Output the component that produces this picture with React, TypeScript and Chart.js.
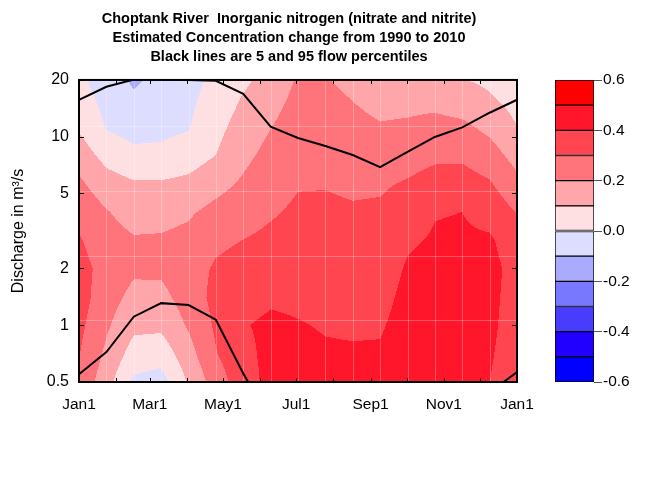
import React, { useEffect, useRef } from 'react';
import { Chart, registerables } from 'chart.js';

Chart.register(...registerables);

// ---------- text ----------
const titleLines = [
  'Choptank River  Inorganic nitrogen (nitrate and nitrite)',
  'Estimated Concentration change from 1990 to 2010',
  'Black lines are 5 and 95 flow percentiles',
];
const yAxisTitle = 'Discharge in m³/s';

// ---------- axes ----------
const monthTickDays = [0, 59, 120, 181, 243, 304, 365];
const monthTickLabels = ['Jan1', 'Mar1', 'May1', 'Jul1', 'Sep1', 'Nov1', 'Jan1'];
const monthStartDays = [0, 31, 59, 90, 120, 151, 181, 212, 243, 273, 304, 334, 365];
const flowTicks = [0.5, 1, 2, 5, 10, 20];
const flowTickLabels = ['0.5', '1', '2', '5', '10', '20'];

// ---------- surface grid (day of year x discharge) ----------
const gridDays = [0, 22.81, 45.63, 68.44, 91.25, 114.06, 136.88, 159.69, 182.5,
  205.31, 228.13, 250.94, 273.75, 296.56, 319.38, 342.19, 365];
const gridFlows = [0.5, 0.7, 1, 1.4, 2, 2.8, 4, 5.6, 8, 11, 16, 20];
// estimated concentration change, one row per discharge level (low -> high flow)
const changeQ05 = [0.28, 0.14, -0.02, -0.04, 0.11, 0.25, 0.355, 0.43, 0.43, 0.425, 0.42, 0.42, 0.44, 0.445, 0.44, 0.40, 0.345];
const changeQ07 = [0.304, 0.18, 0.057, 0.039, 0.16, 0.294, 0.375, 0.425, 0.42, 0.41, 0.41, 0.41, 0.44, 0.445, 0.44, 0.41, 0.35];
const changeQ10 = [0.325, 0.215, 0.123, 0.122, 0.212, 0.315, 0.395, 0.415, 0.405, 0.394, 0.388, 0.391, 0.435, 0.445, 0.44, 0.42, 0.355];
const changeQ14 = [0.344, 0.242, 0.171, 0.172, 0.243, 0.33, 0.37, 0.389, 0.384, 0.375, 0.369, 0.372, 0.425, 0.44, 0.435, 0.425, 0.36];
const changeQ20 = [0.333, 0.268, 0.217, 0.218, 0.261, 0.311, 0.33, 0.354, 0.36, 0.355, 0.349, 0.352, 0.41, 0.43, 0.43, 0.43, 0.365];
const changeQ28 = [0.311, 0.238, 0.21, 0.213, 0.228, 0.283, 0.302, 0.322, 0.339, 0.336, 0.33, 0.334, 0.388, 0.41, 0.415, 0.415, 0.34];
const changeQ40 = [0.272, 0.206, 0.162, 0.165, 0.187, 0.228, 0.26, 0.289, 0.316, 0.316, 0.31, 0.314, 0.348, 0.395, 0.40, 0.363, 0.295];
const changeQ56 = [0.22, 0.143, 0.112, 0.112, 0.126, 0.169, 0.215, 0.26, 0.294, 0.296, 0.285, 0.288, 0.31, 0.336, 0.343, 0.311, 0.229];
const changeQ80 = [0.153, 0.066, 0.024, 0.023, 0.051, 0.10, 0.176, 0.229, 0.27, 0.271, 0.255, 0.246, 0.261, 0.283, 0.282, 0.243, 0.162];
const changeQ110 = [0.091, -0.003, -0.033, -0.022, -0.004, 0.072, 0.145, 0.20, 0.249, 0.248, 0.228, 0.209, 0.216, 0.229, 0.224, 0.18, 0.104];
const changeQ160 = [0.046, -0.033, -0.086, -0.059, -0.021, 0.039, 0.107, 0.163, 0.224, 0.221, 0.197, 0.171, 0.173, 0.175, 0.15, 0.111, 0.063];
const changeQ200 = [0.02, -0.05, -0.115, -0.07, -0.03, 0.02, 0.08, 0.14, 0.21, 0.205, 0.18, 0.15, 0.15, 0.15, 0.105, 0.08, 0.04];
const changeGrid = [changeQ05, changeQ07, changeQ10, changeQ14, changeQ20, changeQ28,
  changeQ40, changeQ56, changeQ80, changeQ110, changeQ160, changeQ200];

// flow percentiles (m3/s) on the same day grid
const flow95 = [15.7, 18.4, 20.1, 20.1, 20.0, 19.8, 16.9, 11.3, 9.85, 8.93, 8.0, 6.9, 8.3, 9.97, 11.2, 13.4, 15.7];
const flow5 = [0.55, 0.72, 1.11, 1.31, 1.28, 1.07, 0.555, 0.31, 0.28, 0.27, 0.27, 0.28, 0.3, 0.33, 0.38, 0.44, 0.565];

// guide lines of the surface grid (discharge)
const guideFlows = [1.07, 2.34, 5.15, 11.4];

// ---------- colour scale ----------
const contourLevels = [-0.6, -0.5, -0.4, -0.3, -0.2, -0.1, 0, 0.1, 0.2, 0.3, 0.4, 0.5, 0.6];
const bandColors = [
  'rgb(0,0,255)', 'rgb(34,0,255)', 'rgb(72,60,255)', 'rgb(120,120,255)',
  'rgb(170,170,255)', 'rgb(221,221,255)', 'rgb(255,224,226)', 'rgb(255,166,170)',
  'rgb(255,115,122)', 'rgb(255,70,80)', 'rgb(255,22,42)', 'rgb(255,0,0)',
];
const colorbarTicks = [-0.6, -0.4, -0.2, 0, 0.2, 0.4, 0.6];

const FONT = "'Liberation Sans', Arial, Helvetica, sans-serif";

function parseRgb(s: string): number[] {
  const m = s.match(/\d+/g) || ['0', '0', '0'];
  return m.map(Number);
}

function findIndex(arr: number[], v: number): [number, number] {
  let i = 0;
  while (i < arr.length - 2 && v > arr[i + 1]) i++;
  let t = (v - arr[i]) / (arr[i + 1] - arr[i]);
  t = Math.max(0, Math.min(1, t));
  return [i, t];
}

const contourPlugin = {
  id: 'contourSurface',
  beforeDatasetsDraw(chart: any) {
    const { ctx, chartArea: a, scales } = chart;
    const xs = scales.x;
    const ys = scales.y;
    const w = Math.round(a.right - a.left);
    const h = Math.round(a.bottom - a.top);
    const off = document.createElement('canvas');
    off.width = w;
    off.height = h;
    const octx = off.getContext('2d') as CanvasRenderingContext2D;
    const img = octx.createImageData(w, h);
    const rgb = bandColors.map(parseRgb);
    const logFlows = gridFlows.map((q) => Math.log10(q));
    const colIdx: [number, number][] = [];
    for (let i = 0; i < w; i++) {
      colIdx.push(findIndex(gridDays, xs.getValueForPixel(a.left + i + 0.5)));
    }
    for (let j = 0; j < h; j++) {
      const q = ys.getValueForPixel(a.top + j + 0.5);
      const [r, ty] = findIndex(logFlows, Math.log10(q));
      const row0 = changeGrid[r];
      const row1 = changeGrid[r + 1];
      for (let i = 0; i < w; i++) {
        const [c, tx] = colIdx[i];
        const v0 = row0[c] * (1 - tx) + row0[c + 1] * tx;
        const v1 = row1[c] * (1 - tx) + row1[c + 1] * tx;
        const v = v0 * (1 - ty) + v1 * ty;
        let b = 0;
        while (b < bandColors.length - 1 && v >= contourLevels[b + 1]) b++;
        const col = rgb[b];
        const k = (j * w + i) * 4;
        img.data[k] = col[0];
        img.data[k + 1] = col[1];
        img.data[k + 2] = col[2];
        img.data[k + 3] = 255;
      }
    }
    octx.putImageData(img, 0, 0);
    ctx.save();
    ctx.drawImage(off, a.left, a.top);
    // faint surface-grid guide lines
    ctx.strokeStyle = 'rgba(255,255,255,0.28)';
    ctx.lineWidth = 1;
    ctx.beginPath();
    for (let i = 1; i < gridDays.length - 1; i++) {
      const px = Math.round(xs.getPixelForValue(gridDays[i])) + 0.5;
      ctx.moveTo(px, a.top);
      ctx.lineTo(px, a.bottom);
    }
    guideFlows.forEach((q) => {
      const py = Math.round(ys.getPixelForValue(q)) + 0.5;
      ctx.moveTo(a.left, py);
      ctx.lineTo(a.right, py);
    });
    ctx.stroke();
    ctx.restore();
  },
  afterDatasetsDraw(chart: any) {
    const { ctx, chartArea: a, scales } = chart;
    const xs = scales.x;
    const ys = scales.y;
    ctx.save();
    ctx.strokeStyle = '#000';
    ctx.lineWidth = 1;
    ctx.beginPath();
    monthStartDays.forEach((d) => {
      const px = Math.round(xs.getPixelForValue(d)) + 0.5;
      ctx.moveTo(px, a.bottom);
      ctx.lineTo(px, a.bottom - 4);
      ctx.moveTo(px, a.top);
      ctx.lineTo(px, a.top + 4);
    });
    flowTicks.forEach((q) => {
      const py = Math.round(ys.getPixelForValue(q)) + 0.5;
      ctx.moveTo(a.left, py);
      ctx.lineTo(a.left + 5, py);
      ctx.moveTo(a.right, py);
      ctx.lineTo(a.right - 5, py);
    });
    ctx.stroke();
    ctx.lineWidth = 2;
    ctx.strokeRect(a.left, a.top, a.right - a.left, a.bottom - a.top);
    ctx.restore();
  },
};

export default function App() {
  const mainRef = useRef<HTMLCanvasElement>(null);
  const barRef = useRef<HTMLCanvasElement>(null);

  useEffect(() => {
    Chart.defaults.font.family = FONT;
    Chart.defaults.color = '#000';

    const main = new Chart(mainRef.current as HTMLCanvasElement, {
      type: 'scatter',
      data: {
        datasets: [
          {
            label: '95 percentile flow',
            data: gridDays.map((d, i) => ({ x: d, y: flow95[i] })),
            showLine: true,
            borderColor: '#000',
            borderWidth: 2,
            pointRadius: 0,
            tension: 0,
          },
          {
            label: '5 percentile flow',
            data: gridDays.map((d, i) => ({ x: d, y: flow5[i] })),
            showLine: true,
            borderColor: '#000',
            borderWidth: 2,
            pointRadius: 0,
            tension: 0,
          },
        ],
      },
      options: {
        responsive: false,
        animation: false,
        events: [],
        layout: { padding: { left: 0, right: 94, top: 0, bottom: 0 } },
        plugins: {
          legend: { display: false },
          tooltip: { enabled: false },
          title: {
            display: true,
            text: titleLines,
            color: '#000',
            font: { family: FONT, size: 14.5, weight: 'bold', lineHeight: 1.3 },
            padding: { top: 10, bottom: 13.4 },
          },
        },
        scales: {
          x: {
            type: 'linear',
            position: 'bottom',
            min: 0,
            max: 365,
            grid: { display: false, drawTicks: false },
            border: { display: false },
            afterBuildTicks: (s: any) => {
              s.ticks = monthTickDays.map((v) => ({ value: v }));
            },
            ticks: {
              autoSkip: false,
              maxRotation: 0,
              padding: 13,
              font: { size: 15.5 },
              color: '#000',
              callback: (_v: any, i: number) => monthTickLabels[i],
            },
            afterFit: (s: any) => {
              s.height = 98;
            },
          },
          y: {
            type: 'logarithmic',
            position: 'left',
            min: 0.5,
            max: 20,
            grid: { display: false, drawTicks: false },
            border: { display: false },
            afterBuildTicks: (s: any) => {
              s.ticks = flowTicks.map((v) => ({ value: v }));
            },
            ticks: {
              autoSkip: false,
              padding: 10,
              font: { size: 16 },
              color: '#000',
              callback: (_v: any, i: number) => flowTickLabels[i],
            },
            title: {
              display: true,
              text: yAxisTitle,
              color: '#000',
              font: { size: 16 },
              padding: { top: 9, bottom: 0 },
            },
            afterFit: (s: any) => {
              s.width = 79;
            },
          },
          yRight: {
            type: 'linear',
            position: 'right',
            display: true,
            grid: { display: false, drawTicks: false },
            border: { display: false },
            ticks: { display: false },
            afterFit: (s: any) => {
              s.width = 61;
            },
          },
        },
      } as any,
      plugins: [contourPlugin],
    });

    const bands = bandColors.map((c, i) => ({
      label: `${contourLevels[i]} to ${contourLevels[i + 1]}`,
      data: [[contourLevels[i], contourLevels[i + 1]]],
      backgroundColor: c,
      borderColor: '#000',
      borderWidth: 1,
      borderSkipped: false,
      grouped: false,
      barPercentage: 1,
      categoryPercentage: 1,
    }));

    const bar = new Chart(barRef.current as HTMLCanvasElement, {
      type: 'bar',
      data: { labels: [''], datasets: bands as any },
      options: {
        responsive: false,
        animation: false,
        events: [],
        layout: { padding: { left: 5, right: 0, top: 20, bottom: 18 } },
        plugins: { legend: { display: false }, tooltip: { enabled: false }, title: { display: false } },
        scales: {
          x: { display: false },
          y: {
            type: 'linear',
            position: 'right',
            min: -0.6,
            max: 0.6,
            afterBuildTicks: (s: any) => {
              s.ticks = colorbarTicks.map((v) => ({ value: v }));
            },
            ticks: {
              padding: 1,
              font: { size: 15.5 },
              color: '#000',
              callback: (v: any) => (Math.abs(v) < 1e-9 ? 0 : Number(v)).toFixed(1),
            },
            grid: { drawOnChartArea: false, drawTicks: true, tickLength: 8, color: '#555', lineWidth: 1 },
            border: { display: false },
            afterFit: (s: any) => {
              s.width = 78;
            },
          },
        },
      } as any,
    });

    return () => {
      main.destroy();
      bar.destroy();
    };
  }, []);

  return (
    <div style={{ position: 'fixed', left: 0, top: 0, width: 672, height: 480, background: '#fff' }}>
      <canvas ref={mainRef} width={672} height={480} style={{ position: 'absolute', left: 0, top: 0 }} />
      <canvas ref={barRef} width={122} height={340} style={{ position: 'absolute', left: 550, top: 60 }} />
    </div>
  );
}
